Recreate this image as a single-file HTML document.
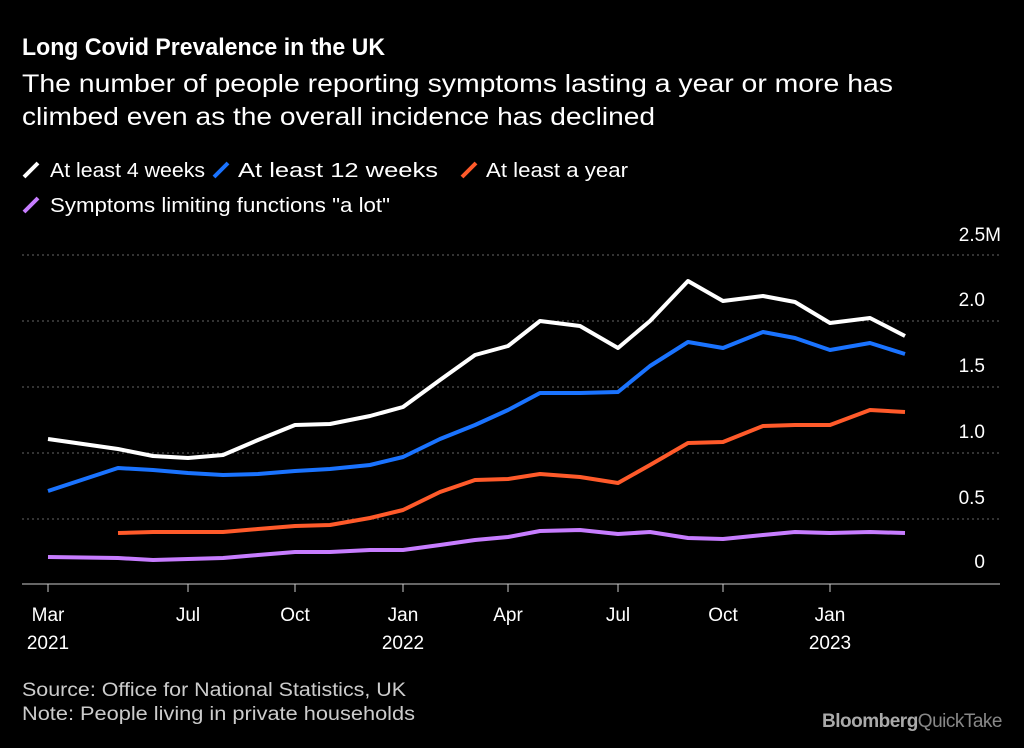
<!DOCTYPE html>
<html><head><style>
body{margin:0;background:#000;width:1024px;height:743px;overflow:hidden;font-family:"Liberation Sans",sans-serif;color:#fff}
</style></head><body>
<svg width="1024" height="743" xmlns="http://www.w3.org/2000/svg" font-family="Liberation Sans, sans-serif">
<rect width="1024" height="743" fill="#000"/>
<text x="22" y="55" font-size="24" font-weight="bold" fill="#fff" textLength="363" lengthAdjust="spacingAndGlyphs">Long Covid Prevalence in the UK</text>
<text x="22" y="92" font-size="25" fill="#fff" textLength="871" lengthAdjust="spacingAndGlyphs">The number of people reporting symptoms lasting a year or more has</text>
<text x="22" y="125" font-size="25" fill="#fff" textLength="633" lengthAdjust="spacingAndGlyphs">climbed even as the overall incidence has declined</text>
<g font-size="20" fill="#fff">
<line x1="24" y1="177" x2="38" y2="163" stroke="#fff" stroke-width="4"/><text x="50" y="177" textLength="155" lengthAdjust="spacingAndGlyphs">At least 4 weeks</text>
<line x1="214" y1="177" x2="228" y2="163" stroke="#1a73ff" stroke-width="4"/><text x="238" y="177" textLength="200" lengthAdjust="spacingAndGlyphs">At least 12 weeks</text>
<line x1="462" y1="177" x2="476" y2="163" stroke="#ff5a2a" stroke-width="4"/><text x="486" y="177" textLength="142" lengthAdjust="spacingAndGlyphs">At least a year</text>
<line x1="24" y1="212" x2="38" y2="198" stroke="#c77dff" stroke-width="4"/><text x="50" y="212" textLength="340" lengthAdjust="spacingAndGlyphs">Symptoms limiting functions "a lot"</text>
</g>
<g stroke="#666" stroke-dasharray="2,3" stroke-width="1">
<line x1="22" y1="255" x2="1000" y2="255"/><line x1="22" y1="321" x2="1000" y2="321"/>
<line x1="22" y1="387" x2="1000" y2="387"/><line x1="22" y1="453" x2="1000" y2="453"/>
<line x1="22" y1="519" x2="1000" y2="519"/>
</g>
<line x1="22" y1="584" x2="1000" y2="584" stroke="#ccc" stroke-width="1"/>
<g font-size="19" fill="#fff" text-anchor="end">
<text x="1001" y="241">2.5M</text><text x="985" y="306">2.0</text><text x="985" y="372">1.5</text>
<text x="985" y="438">1.0</text><text x="985" y="504">0.5</text><text x="985" y="568">0</text>
</g>
<g stroke="#ccc"><line x1="48" y1="584" x2="48" y2="592"/><line x1="188" y1="584" x2="188" y2="592"/><line x1="295" y1="584" x2="295" y2="592"/><line x1="403" y1="584" x2="403" y2="592"/><line x1="508" y1="584" x2="508" y2="592"/><line x1="618" y1="584" x2="618" y2="592"/><line x1="723" y1="584" x2="723" y2="592"/><line x1="830" y1="584" x2="830" y2="592"/></g>
<g font-size="19" fill="#fff" text-anchor="middle">
<text x="48" y="621">Mar</text><text x="48" y="649">2021</text><text x="188" y="621">Jul</text><text x="295" y="621">Oct</text>
<text x="403" y="621">Jan</text><text x="403" y="649">2022</text><text x="508" y="621">Apr</text><text x="618" y="621">Jul</text>
<text x="723" y="621">Oct</text><text x="830" y="621">Jan</text><text x="830" y="649">2023</text>
</g>
<g fill="none" stroke-width="4" stroke-linejoin="round">
<polyline stroke="#c77dff" points="48,557 118,558 153,560 188,559 223,558 258,555 295,552 330,552 370,550 403,550 440,545 475,540 508,537 540,531 580,530 618,534 650,532 688,538 723,539 763,535 795,532 830,533 870,532 905,533"/>
<polyline stroke="#ff5a2a" points="118,533 153,532 188,532 223,532 258,529 295,526 330,525 370,518 403,510 440,492 475,480 508,479 540,474 580,477 618,483 650,465 688,443 723,442 763,426 795,425 830,425 870,410 905,412"/>
<polyline stroke="#1a73ff" points="48,491 118,468 153,470 188,473 223,475 258,474 295,471 330,469 370,465 403,457 440,439 475,425 508,410 540,393 580,393 618,392 650,366 688,342 723,348 763,332 795,338 830,350 870,343 905,354"/>
<polyline stroke="#fff" points="48,439 118,449 153,456 188,458 223,455 258,440 295,425 330,424 370,416 403,407 440,380 475,355 508,346 540,321 580,326 618,348 650,321 688,281 723,301 763,296 795,302 830,323 870,318 905,336"/>
</g>
<text x="22" y="696" font-size="19" fill="#ccc" textLength="384" lengthAdjust="spacingAndGlyphs">Source: Office for National Statistics, UK</text>
<text x="22" y="720" font-size="19" fill="#ccc" textLength="393" lengthAdjust="spacingAndGlyphs">Note: People living in private households</text>
<text x="1002" y="727" font-size="19" font-weight="bold" text-anchor="end" fill="#aaa" letter-spacing="-0.5">Bloomberg<tspan fill="#888" font-weight="normal">QuickTake</tspan></text>
</svg>
</body></html>
